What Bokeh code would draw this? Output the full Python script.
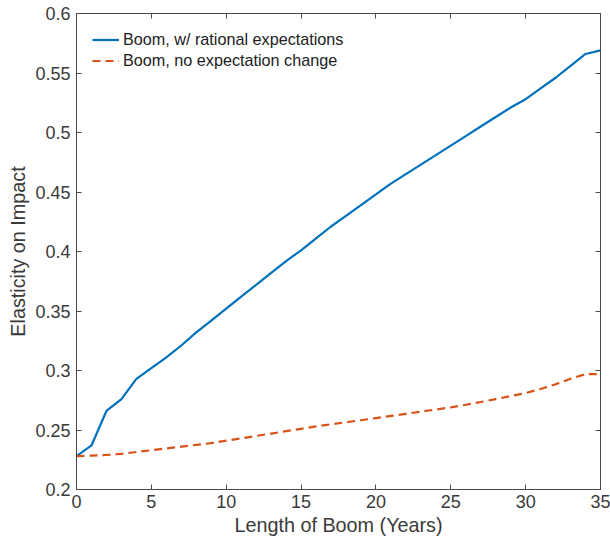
from bokeh.plotting import figure
from bokeh.models import LinearAxis, FixedTicker, CustomJSTickFormatter, Range1d, Legend, LegendItem
from bokeh.embed import file_html
from bokeh.resources import INLINE

years = list(range(0, 36))
boom_rational = [0.228, 0.237, 0.266, 0.276, 0.293, 0.302, 0.311, 0.321, 0.332, 0.342,
                 0.352, 0.362, 0.372, 0.382, 0.392, 0.401, 0.411, 0.421, 0.430, 0.439,
                 0.448, 0.457, 0.465, 0.473, 0.481, 0.489, 0.497, 0.505, 0.513, 0.521,
                 0.528, 0.537, 0.546, 0.556, 0.566, 0.569]
boom_noexp = [0.228, 0.2285, 0.229, 0.230, 0.2315, 0.233, 0.2345, 0.236, 0.2375, 0.239,
              0.241, 0.243, 0.245, 0.247, 0.249, 0.251, 0.253, 0.2548, 0.2565, 0.2582,
              0.260, 0.2618, 0.2636, 0.2654, 0.2672, 0.269, 0.2712, 0.2735, 0.276, 0.2785,
              0.281, 0.2845, 0.2885, 0.293, 0.297, 0.297]
x_ticks = [0, 5, 10, 15, 20, 25, 30, 35]
y_ticks = [0.2, 0.25, 0.3, 0.35, 0.4, 0.45, 0.5, 0.55, 0.6]

FONT = "Liberation Sans"
TXT = "#3a3a3a"
AX = "#4a4a4a"

p = figure(width=610, height=548, output_backend="svg", toolbar_location=None,
           x_range=Range1d(0, 35), y_range=Range1d(0.2, 0.6),
           min_border_left=76, min_border_right=10, min_border_top=13, min_border_bottom=59)
p.grid.visible = False
p.outline_line_color = AX
p.background_fill_color = "white"

fmt = CustomJSTickFormatter(code="return Number(tick.toFixed(2)).toString();")

r1 = p.line(years, boom_rational, line_color="#0072BD", line_width=2.2)
r2 = p.line(years, boom_noexp, line_color="#D95319", line_width=2.2, line_dash="8 5")

for ax in p.xaxis:
    ax.ticker = FixedTicker(ticks=x_ticks)
    ax.axis_label = "Length of Boom (Years)"
    ax.major_label_standoff = 5
    ax.axis_label_standoff = 3
for ax in p.yaxis:
    ax.ticker = FixedTicker(ticks=y_ticks)
    ax.formatter = fmt
    ax.axis_label = "Elasticity on Impact"
    ax.major_label_standoff = 6
    ax.axis_label_standoff = 3

def style(ax):
    ax.major_tick_in = 5
    ax.major_tick_out = 0
    ax.minor_tick_line_color = None
    ax.axis_line_color = AX
    ax.major_tick_line_color = AX
    ax.major_label_text_font = FONT
    ax.major_label_text_font_size = "18px"
    ax.major_label_text_color = TXT
    ax.axis_label_text_font = FONT
    ax.axis_label_text_font_size = "19.8px"
    ax.axis_label_text_font_style = "normal"
    ax.axis_label_text_color = TXT

for ax in p.xaxis + p.yaxis:
    style(ax)

top = LinearAxis(ticker=FixedTicker(ticks=x_ticks), major_label_text_font_size="1px",
                 major_label_text_color=None, major_label_standoff=0)
right = LinearAxis(ticker=FixedTicker(ticks=y_ticks), major_label_text_font_size="1px",
                   major_label_text_color=None, major_label_standoff=0)
for ax in (top, right):
    ax.major_tick_in = 5
    ax.major_tick_out = 0
    ax.minor_tick_line_color = None
    ax.axis_line_color = AX
    ax.major_tick_line_color = AX
p.add_layout(top, "above")
p.add_layout(right, "right")

legend = Legend(items=[LegendItem(label="Boom, w/ rational expectations", renderers=[r1]),
                       LegendItem(label="Boom, no expectation change", renderers=[r2])],
                location="top_left")
legend.border_line_color = None
legend.background_fill_alpha = 0
legend.label_text_font = FONT
legend.label_text_font_size = "16.2px"
legend.label_text_color = "#222222"
legend.glyph_width = 27
legend.glyph_height = 21
legend.label_height = 21
legend.spacing = 0
legend.margin = 16
legend.padding = 0
legend.label_standoff = 4
p.add_layout(legend)

open("out.html", "w").write(file_html(p, INLINE))
